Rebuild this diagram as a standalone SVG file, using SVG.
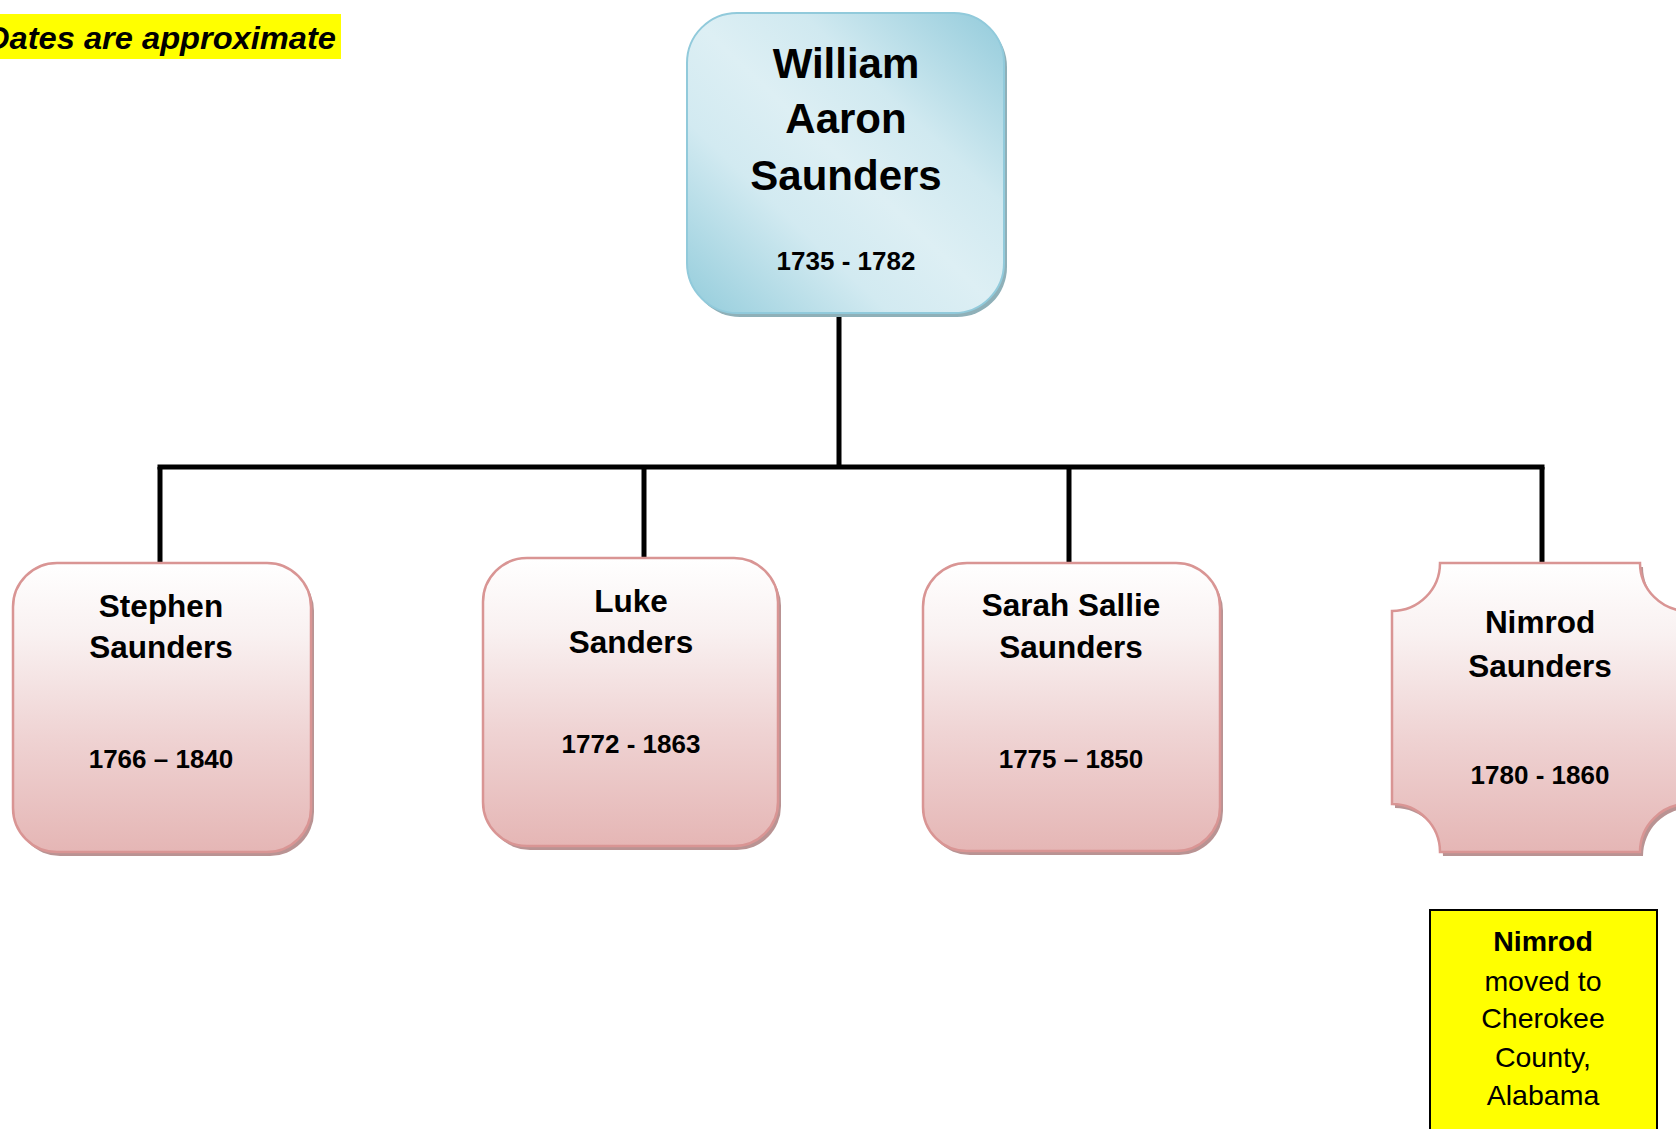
<svg xmlns="http://www.w3.org/2000/svg" width="1676" height="1129" viewBox="0 0 1676 1129">
<defs>
<linearGradient id="blueG" x1="0" y1="1" x2="1" y2="0">
<stop offset="0" stop-color="#93ccdb"/>
<stop offset="0.32" stop-color="#d2eaf1"/>
<stop offset="0.5" stop-color="#ddeff4"/>
<stop offset="0.68" stop-color="#d0e9f0"/>
<stop offset="1" stop-color="#93cbdb"/>
</linearGradient>
<linearGradient id="pinkG" x1="0" y1="0" x2="0" y2="1">
<stop offset="0" stop-color="#ffffff"/>
<stop offset="0.25" stop-color="#f9f1f1"/>
<stop offset="0.6" stop-color="#efd3d3"/>
<stop offset="1" stop-color="#e5b6b5"/>
</linearGradient>
</defs>
<style>
.name{font-family:"Liberation Sans",Arial,sans-serif;font-weight:bold;font-size:31.5px;fill:#000;text-anchor:middle}
.top{font-size:42px}
.date{font-family:"Liberation Sans",Arial,sans-serif;font-weight:bold;font-size:26px;fill:#000;text-anchor:middle}
.pink{fill:url(#pinkG);stroke:#d99594;stroke-width:2.5}
.pshadow{fill:#b99393}
.conn{stroke:#000;stroke-width:5;fill:none}
.note{font-family:"Liberation Sans",Arial,sans-serif;font-size:28.5px;fill:#000;text-anchor:middle}
</style>

<g id="dates-note">
<rect x="0" y="14" width="341" height="45" fill="#ffff00"/>
<text x="336" y="49" font-family="Liberation Sans,Arial,sans-serif" font-weight="bold" font-style="italic" font-size="32" text-anchor="end" textLength="350" lengthAdjust="spacingAndGlyphs">Dates are approximate</text>
</g>

<g id="connectors">
<line class="conn" x1="839" y1="313" x2="839" y2="467"/>
<line class="conn" x1="157.5" y1="467" x2="1544.5" y2="467"/>
<line class="conn" x1="160" y1="467" x2="160" y2="564"/>
<line class="conn" x1="644" y1="467" x2="644" y2="559"/>
<line class="conn" x1="1069" y1="467" x2="1069" y2="564"/>
<line class="conn" x1="1542" y1="467" x2="1542" y2="564"/>
</g>

<g id="william">
<rect x="690" y="17" width="317" height="300" rx="50" fill="#8fb0b8"/>
<rect x="687" y="13" width="317" height="300" rx="50" fill="url(#blueG)" stroke="#91cadb" stroke-width="2"/>
<text class="name top" x="846" y="78">William</text>
<text class="name top" x="846" y="133">Aaron</text>
<text class="name top" x="846" y="190">Saunders</text>
<text class="date" x="846" y="270">1735 - 1782</text>
</g>

<g id="stephen">
<rect class="pshadow" x="16" y="567" width="298" height="289" rx="44"/>
<rect class="pink" x="13" y="563" width="298" height="289" rx="44"/>
<text class="name" x="161" y="617">Stephen</text>
<text class="name" x="161" y="658">Saunders</text>
<text class="date" x="161" y="768">1766 – 1840</text>
</g>

<g id="luke">
<rect class="pshadow" x="486" y="562" width="295" height="288" rx="44"/>
<rect class="pink" x="483" y="558" width="295" height="288" rx="44"/>
<text class="name" x="631" y="612">Luke</text>
<text class="name" x="631" y="653">Sanders</text>
<text class="date" x="631" y="753">1772 - 1863</text>
</g>

<g id="sarah">
<rect class="pshadow" x="926" y="567" width="297" height="288" rx="44"/>
<rect class="pink" x="923" y="563" width="297" height="288" rx="44"/>
<text class="name" x="1071" y="616">Sarah Sallie</text>
<text class="name" x="1071" y="658">Saunders</text>
<text class="date" x="1071" y="768">1775 – 1850</text>
</g>

<g id="nimrod">
<path class="pshadow" transform="translate(3,4)" d="M1440 563 H1640 A48 48 0 0 0 1688 611 V804 A48 48 0 0 0 1640 852 H1440 A48 48 0 0 0 1392 804 V611 A48 48 0 0 0 1440 563 Z"/>
<path class="pink" d="M1440 563 H1640 A48 48 0 0 0 1688 611 V804 A48 48 0 0 0 1640 852 H1440 A48 48 0 0 0 1392 804 V611 A48 48 0 0 0 1440 563 Z"/>
<text class="name" x="1540" y="633">Nimrod</text>
<text class="name" x="1540" y="677">Saunders</text>
<text class="date" x="1540" y="784">1780 - 1860</text>
</g>

<g id="nimrod-note">
<rect x="1430" y="910" width="227" height="230" fill="#ffff00" stroke="#000" stroke-width="2"/>
<text class="note" x="1543" y="951" font-weight="bold" font-size="31">Nimrod</text>
<text class="note" x="1543" y="991">moved to</text>
<text class="note" x="1543" y="1028">Cherokee</text>
<text class="note" x="1543" y="1067">County,</text>
<text class="note" x="1543" y="1105">Alabama</text>
</g>
</svg>
